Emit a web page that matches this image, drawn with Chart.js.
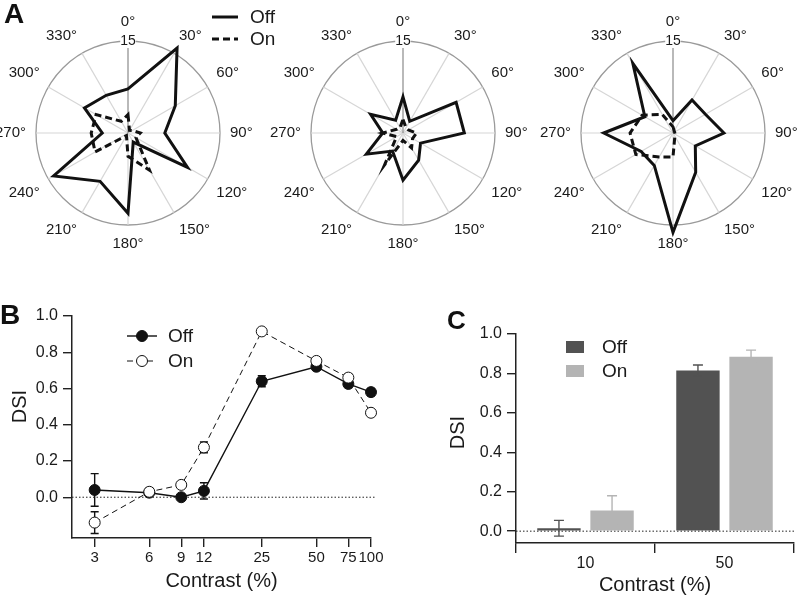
<!DOCTYPE html>
<html>
<head>
<meta charset="utf-8">
<script src="https://cdn.jsdelivr.net/npm/chart.js@4.4.0/dist/chart.umd.min.js"></script>
<style>
  html, body { margin: 0; padding: 0; background: #fff; }
  #wrap { position: relative; width: 799px; height: 599px; overflow: hidden; background: #fff; }
  canvas { position: absolute; }
  .tag { position: absolute; font: bold 28px "Liberation Sans", Arial, sans-serif; line-height: 28px; color: #111; }
</style>
</head>
<body>
<div id="wrap">
  <canvas id="polar1" width="320" height="253" style="left:-32px;top:0"></canvas>
  <canvas id="polar2" width="320" height="253" style="left:243px;top:0"></canvas>
  <canvas id="polar3" width="320" height="253" style="left:513px;top:0"></canvas>
  <canvas id="lineB" width="400" height="299" style="left:0;top:300px"></canvas>
  <canvas id="barC" width="399" height="299" style="left:400px;top:300px"></canvas>
  <div class="tag" style="left:4px;top:0">A</div>
  <div class="tag" style="left:0;top:301px">B</div>
  <div class="tag" style="left:447px;top:306px;font-size:26px">C</div>
</div>
<script>
Chart.defaults.font.family = '"Liberation Sans", Arial, sans-serif';
Chart.defaults.color = '#1a1a1a';
Chart.defaults.animation = false;

// ---- panel A: direction tuning, spikes/s per direction ----
const angleLabels = ['0°', '30°', '60°', '90°', '120°', '150°', '180°', '210°', '240°', '270°', '300°', '330°'];
const offCell1 = [7.2, 16, 8.9, 6.0, 11.2, 1.7, 13.1, 9.1, 14, 4.2, 8.2, 7.1];
const onCell1 = [3.0, 0.5, 0.8, 2.0, 1.5, 7.0, 3.8, 0.5, 6.2, 6.0, 6.0, 2.2];
const offCell2 = [5.9, 2.2, 10.0, 10.0, 3.3, 5.1, 7.7, 3.4, 6.9, 3.3, 6.1, 2.4];
const onCell2 = [2.2, 1.0, 1.0, 2.2, 1.8, 2.8, 1.2, 6.0, 1.2, 3.3, 1.2, 1.0];
const offCell3 = [2.0, 6.2, 6.1, 8.3, 4.2, 7.4, 16.2, 6.1, 6.0, 11.3, 5.3, 13.1];
const onCell3 = [1.0, 0.4, 0.3, 0.3, 0.4, 0.6, 3.9, 4.5, 7.0, 7.0, 5.8, 3.5];
const polarMax = 15;

// ---- panel B: DSI vs contrast ----
const contrastB = [3, 6, 9, 12, 25, 50, 75, 100];
const dsiOffB = [0.04, 0.025, 0.0, 0.035, 0.64, 0.72, 0.625, 0.58];
const semOffB = [0.09, 0.02, 0.012, 0.045, 0.03, 0.02, 0.02, 0.02];
const dsiOnB = [-0.14, 0.03, 0.068, 0.275, 0.915, 0.752, 0.66, 0.466];
const semOnB = [0.06, 0.02, 0.01, 0.03, 0.01, 0.01, 0.02, 0.01];
const dsiTicks = [0, 0.2, 0.4, 0.6, 0.8, 1.0];

// ---- panel C: DSI at 10 and 50 % contrast ----
const contrastC = ['10', '50'];
const dsiOffC = [0.015, 0.815];
const semOffC = [0.04, 0.028];
const dsiOnC = [0.105, 0.885];
const semOnC = [0.075, 0.033];

const FONT = '"Liberation Sans", Arial, sans-serif';

const polarLegend = {
  id: 'polarLegend',
  afterDraw(chart, args, opts) {
    if (!opts.show) return;
    const ctx = chart.ctx;
    const r = chart.scales.r;
    const x0 = r.xCenter + 84, y0 = r.yCenter - 116;
    chart.data.datasets.forEach((ds, i) => {
      const y = y0 + i * 22;
      ctx.save();
      ctx.strokeStyle = ds.borderColor;
      ctx.lineWidth = ds.borderWidth;
      ctx.setLineDash(ds.borderDash || []);
      ctx.beginPath();
      ctx.moveTo(x0, y);
      ctx.lineTo(x0 + 26, y);
      ctx.stroke();
      ctx.setLineDash([]);
      ctx.fillStyle = '#1a1a1a';
      ctx.font = '19px ' + FONT;
      ctx.textBaseline = 'middle';
      ctx.fillText(ds.label, x0 + 38, y + 1);
      ctx.restore();
    });
  }
};

function polarChart(id, off, on, showLegend) {
  return new Chart(document.getElementById(id), {
    type: 'radar',
    data: {
      labels: angleLabels,
      datasets: [
        { label: 'Off', data: off, borderColor: '#111', borderWidth: 3, pointRadius: 0, fill: false },
        { label: 'On', data: on, borderColor: '#111', borderWidth: 3, borderDash: [7, 4], pointRadius: 0, fill: false }
      ]
    },
    options: {
      responsive: false,
      layout: { padding: { top: 13 } },
      elements: { line: { tension: 0 } },
      plugins: {
        legend: { display: false },
        tooltip: { enabled: false },
        polarLegend: { show: showLegend }
      },
      scales: {
        r: {
          min: 0,
          max: polarMax,
          ticks: { stepSize: polarMax, font: { size: 14 }, color: '#1a1a1a', backdropColor: '#fff', backdropPadding: 0 },
          grid: { circular: true, color: '#9a9a9a', lineWidth: 1.3 },
          angleLines: { color: c => c.index === 0 ? '#8a8a8a' : '#d6d6d6', lineWidth: 1.2 },
          pointLabels: { font: { size: 15 }, color: '#1a1a1a', padding: 3 }
        }
      }
    },
    plugins: [polarLegend]
  });
}

polarChart('polar1', offCell1, onCell1, true);
polarChart('polar2', offCell2, onCell2, false);
polarChart('polar3', offCell3, onCell3, false);

// error bars from the dataset's own scale
const errorBars = {
  id: 'errorBars',
  beforeDatasetsDraw(chart, args, opts) { if (opts.under) draw(chart, opts); },
  afterDatasetsDraw(chart, args, opts) { if (!opts.under) draw(chart, opts); }
};
function draw(chart, opts) {
  const ctx = chart.ctx;
  const ys = chart.scales.y;
  chart.data.datasets.forEach((ds, i) => {
    const meta = chart.getDatasetMeta(i);
    meta.data.forEach((el, j) => {
      const raw = ds.data[j];
      const v = typeof raw === 'object' ? raw.y : raw;
      const e = ds.errors[j];
      const top = ys.getPixelForValue(v + e);
      const bot = ys.getPixelForValue(v - e);
      ctx.save();
      ctx.strokeStyle = ds.errorColor;
      ctx.lineWidth = opts.width;
      ctx.beginPath();
      ctx.moveTo(el.x, top); ctx.lineTo(el.x, bot);
      ctx.moveTo(el.x - opts.cap, top); ctx.lineTo(el.x + opts.cap, top);
      ctx.moveTo(el.x - opts.cap, bot); ctx.lineTo(el.x + opts.cap, bot);
      ctx.stroke();
      ctx.restore();
    });
  });
}

const zeroLine = {
  id: 'zeroLine',
  beforeDatasetsDraw(chart, args, opts) {
    const ctx = chart.ctx;
    const y = chart.scales.y.getPixelForValue(0);
    ctx.save();
    ctx.strokeStyle = '#222';
    ctx.lineWidth = 1;
    ctx.setLineDash([1.5, 2]);
    ctx.beginPath();
    ctx.moveTo(chart.chartArea.left, y);
    ctx.lineTo(chart.chartArea.right + opts.extend, y);
    ctx.stroke();
    ctx.restore();
  }
};

const yTitle = {
  id: 'yTitle',
  afterDraw(chart, args, opts) {
    const ctx = chart.ctx;
    const y = chart.scales.y.getPixelForValue(opts.at);
    ctx.save();
    ctx.translate(opts.x, y);
    ctx.rotate(-Math.PI / 2);
    ctx.textAlign = 'center';
    ctx.textBaseline = 'middle';
    ctx.fillStyle = '#1a1a1a';
    ctx.font = '20px ' + FONT;
    ctx.fillText(opts.text, 0, 0);
    ctx.restore();
  }
};

const markerLegend = {
  id: 'markerLegend',
  afterDraw(chart, args, opts) {
    const ctx = chart.ctx;
    chart.data.datasets.forEach((ds, i) => {
      const x = opts.x, y = opts.y + i * opts.gap;
      ctx.save();
      ctx.strokeStyle = ds.borderColor;
      ctx.lineWidth = ds.borderWidth;
      ctx.setLineDash(ds.borderDash || []);
      ctx.beginPath();
      ctx.moveTo(x, y); ctx.lineTo(x + 30, y);
      ctx.stroke();
      ctx.setLineDash([]);
      ctx.beginPath();
      ctx.arc(x + 15, y, ds.pointRadius, 0, Math.PI * 2);
      ctx.fillStyle = ds.pointBackgroundColor;
      ctx.fill();
      ctx.lineWidth = ds.pointBorderWidth;
      ctx.strokeStyle = ds.pointBorderColor;
      ctx.stroke();
      ctx.fillStyle = '#1a1a1a';
      ctx.font = '19px ' + FONT;
      ctx.textBaseline = 'middle';
      ctx.fillText(ds.label, x + 41, y + 1);
      ctx.restore();
    });
  }
};

const boxLegend = {
  id: 'boxLegend',
  afterDraw(chart, args, opts) {
    const ctx = chart.ctx;
    chart.data.datasets.forEach((ds, i) => {
      const x = opts.x, y = opts.y + i * opts.gap;
      ctx.save();
      ctx.fillStyle = ds.backgroundColor;
      ctx.fillRect(x, y - 6, 18, 12);
      ctx.fillStyle = '#1a1a1a';
      ctx.font = '19px ' + FONT;
      ctx.textBaseline = 'middle';
      ctx.fillText(ds.label, x + 36, y + 1);
      ctx.restore();
    });
  }
};

const axisLine = { color: '#222', width: 1.5 };

new Chart(document.getElementById('lineB'), {
  type: 'line',
  data: {
    datasets: [
      {
        label: 'Off', order: 1, clip: false,
        data: contrastB.map((c, i) => ({ x: c, y: dsiOffB[i] })),
        errors: semOffB, errorColor: '#111',
        borderColor: '#111', borderWidth: 1.4,
        pointRadius: 5.5, pointBackgroundColor: '#111', pointBorderColor: '#111', pointBorderWidth: 1
      },
      {
        label: 'On', order: 0, clip: false,
        data: contrastB.map((c, i) => ({ x: c, y: dsiOnB[i] })),
        errors: semOnB, errorColor: '#111',
        borderColor: '#111', borderWidth: 1, borderDash: [6, 4],
        pointRadius: 5.5, pointBackgroundColor: '#fff', pointBorderColor: '#111', pointBorderWidth: 1
      }
    ]
  },
  options: {
    responsive: false,
    layout: { padding: { left: 0, top: 16, right: 29, bottom: 0 } },
    elements: { line: { tension: 0 } },
    plugins: {
      legend: { display: false },
      tooltip: { enabled: false },
      errorBars: { under: true, width: 1.4, cap: 4 },
      zeroLine: { extend: 5 },
      yTitle: { text: 'DSI', x: 20, at: 0.5 },
      markerLegend: { x: 127, y: 36, gap: 25 }
    },
    scales: {
      x: {
        type: 'logarithmic', min: 2.25, max: 100,
        afterBuildTicks: s => { s.ticks = contrastB.map(v => ({ value: v })); },
        afterFit: s => { s.height = 61; },
        ticks: { callback: v => String(v), autoSkip: false, maxRotation: 0, font: { size: 15 }, padding: 2, color: '#1a1a1a' },
        grid: { drawOnChartArea: false, tickLength: 9, color: '#222', lineWidth: 1.4 },
        border: axisLine,
        title: { display: true, text: 'Contrast (%)', font: { size: 20 }, color: '#1a1a1a', padding: { top: 0, bottom: 6 } }
      },
      y: {
        min: -0.225, max: 1.0,
        afterBuildTicks: s => { s.ticks = dsiTicks.map(v => ({ value: v })); },
        afterFit: s => { s.width = 72; },
        ticks: { callback: v => v.toFixed(1), font: { size: 16 }, padding: 5, color: '#1a1a1a' },
        grid: { drawOnChartArea: false, tickLength: 9, color: '#222', lineWidth: 1.4 },
        border: axisLine
      }
    }
  },
  plugins: [errorBars, zeroLine, yTitle, markerLegend]
});

new Chart(document.getElementById('barC'), {
  type: 'bar',
  data: {
    labels: contrastC,
    datasets: [
      { label: 'Off', data: dsiOffC, errors: semOffC, backgroundColor: '#525252', errorColor: '#525252' },
      { label: 'On', data: dsiOnC, errors: semOnC, backgroundColor: '#b4b4b4', errorColor: '#b4b4b4' }
    ]
  },
  options: {
    responsive: false,
    layout: { padding: { left: 0, top: 34, right: 5, bottom: 0 } },
    datasets: { bar: { barPercentage: 0.817, categoryPercentage: 0.764 } },
    plugins: {
      legend: { display: false },
      tooltip: { enabled: false },
      errorBars: { under: false, width: 1.4, cap: 5 },
      zeroLine: { extend: 0 },
      yTitle: { text: 'DSI', x: 58, at: 0.5 },
      boxLegend: { x: 166, y: 47, gap: 24 }
    },
    scales: {
      x: {
        afterFit: s => { s.height = 56; },
        ticks: { font: { size: 16 }, padding: 1, color: '#1a1a1a' },
        grid: { offset: true, drawOnChartArea: false, tickLength: 10, color: '#222', lineWidth: 1.4 },
        border: axisLine,
        title: { display: true, text: 'Contrast (%)', font: { size: 20 }, color: '#1a1a1a', padding: { top: 0, bottom: 2 } }
      },
      y: {
        min: -0.06, max: 1.0,
        afterBuildTicks: s => { s.ticks = dsiTicks.map(v => ({ value: v })); },
        afterFit: s => { s.width = 116; },
        ticks: { callback: v => v.toFixed(1), font: { size: 16 }, padding: 5, color: '#1a1a1a' },
        grid: { drawOnChartArea: false, tickLength: 9, color: '#222', lineWidth: 1.4 },
        border: axisLine
      }
    }
  },
  plugins: [errorBars, zeroLine, yTitle, boxLegend]
});
</script>
</body>
</html>
